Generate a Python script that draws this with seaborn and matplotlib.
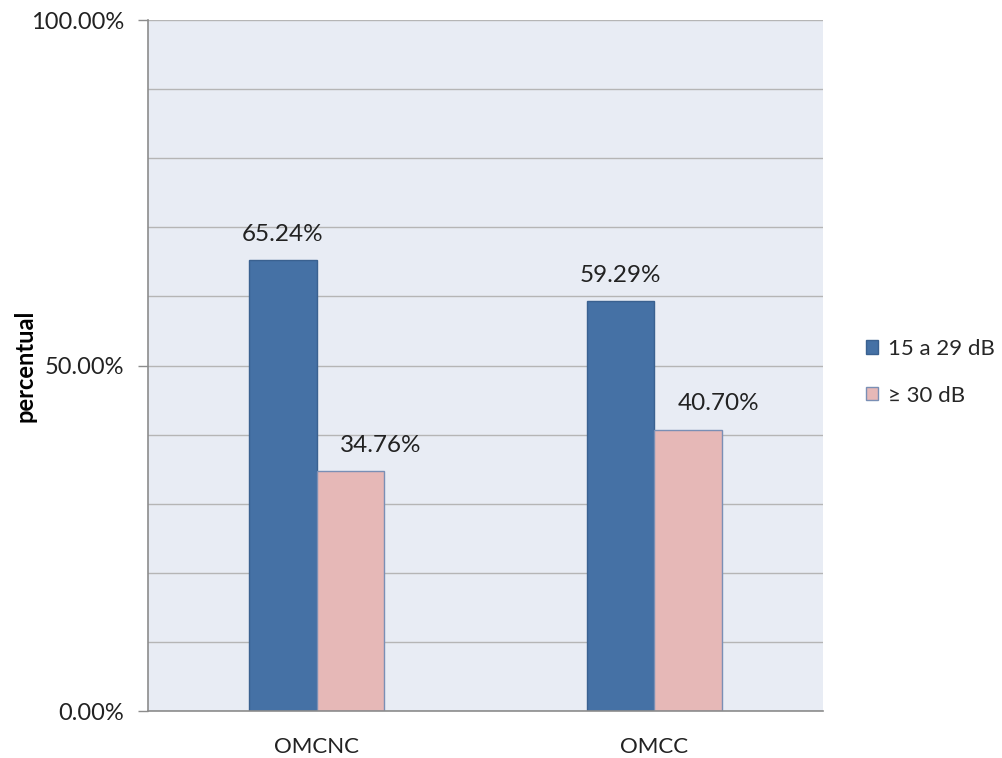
import matplotlib
matplotlib.use("Agg")
import matplotlib.pyplot as plt
import seaborn as sns
import pandas as pd
from matplotlib.ticker import MultipleLocator, FuncFormatter
from matplotlib.patches import Patch

groups = ["OMCNC", "OMCC"]
series = ["15 a 29 dB", "\u2265 30 dB"]
low_loss = [65.24, 59.29]
high_loss = [34.76, 40.70]

df = pd.DataFrame({
    "grupo": groups * 2,
    "faixa": [series[0]] * 2 + [series[1]] * 2,
    "valor": low_loss + high_loss,
})

sns.set_theme(style="white")
plt.rcParams["font.family"] = ["Lato", "DejaVu Sans"]

colors = ["#4571A5", "#E6B8B7"]
edges = ["#3A6190", "#7A8FB5"]
# horizontal nudge (points) of each series' value labels
label_dx = [0, 22]

fig = plt.figure(figsize=(10.03, 7.58), dpi=100)
ax = fig.add_axes([0.1476, 0.062, 0.6729, 0.9116])
ax.set_facecolor("#E8ECF4")

sns.barplot(data=df, x="grupo", y="valor", hue="faixa", order=groups,
            hue_order=series, palette=colors, width=0.4, ax=ax,
            legend=False, saturation=1)

for cont, ec, dx in zip(ax.containers, edges, label_dx):
    for p in cont:
        p.set_edgecolor(ec)
        p.set_linewidth(1.0)
    texts = ax.bar_label(cont, fmt="%.2f%%", padding=11, fontsize=17.5,
                         color="#222222")
    for t in texts:
        t.xyann = (dx, t.xyann[1])

ax.set_ylim(0, 100)
ax.set_xlim(-0.5, 1.5)
ax.yaxis.set_major_locator(MultipleLocator(50))
ax.yaxis.set_minor_locator(MultipleLocator(10))
ax.yaxis.set_major_formatter(FuncFormatter(lambda v, _: f"{v:.2f}%"))
ax.grid(which="both", axis="y", color="#B5B5B5", linewidth=1.0)
ax.set_axisbelow(True)
ax.tick_params(axis="y", which="major", length=7, color="#8C8C8C",
               width=1, labelsize=17, labelcolor="#222222", pad=10, left=True)
ax.tick_params(axis="y", which="minor", length=0)
ax.tick_params(axis="x", length=0, labelsize=16, labelcolor="#222222", pad=19)

for s in ["top", "right"]:
    ax.spines[s].set_visible(False)
for s in ["left", "bottom"]:
    ax.spines[s].set_color("#8C8C8C")
    ax.spines[s].set_linewidth(1.2)

ax.set_xlabel("")
ax.set_ylabel("percentual", fontsize=17, fontweight="bold", color="black")
ax.yaxis.set_label_coords(-0.165, 0.5)

handles = [Patch(facecolor=c, edgecolor=e, label=l)
           for c, e, l in zip(colors, edges, series)]
fig.legend(handles=handles, loc="center left", bbox_to_anchor=(0.8634, 0.509),
           frameon=False, fontsize=16, handlelength=0.55, handleheight=0.55,
           handletextpad=0.45, labelspacing=1.2, borderpad=0,
           borderaxespad=0)

fig.savefig("out.png", dpi=100)
